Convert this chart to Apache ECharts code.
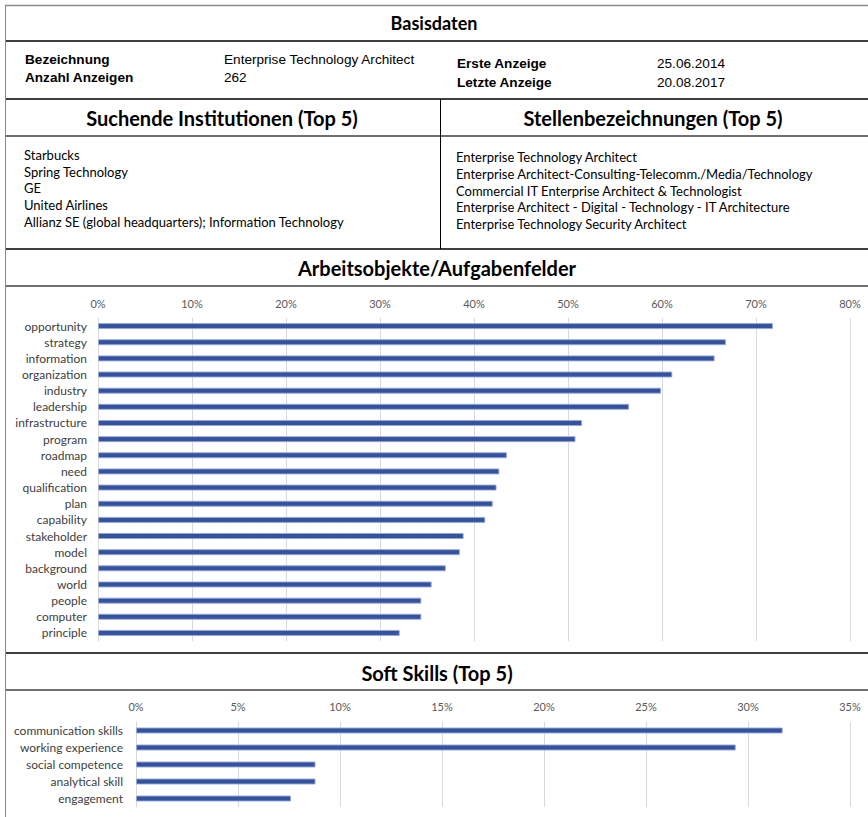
<!DOCTYPE html>
<html><head><meta charset="utf-8">
<script src="https://cdn.jsdelivr.net/npm/echarts@6/dist/echarts.min.js"></script>
<style>html,body{margin:0;padding:0;background:#fff}#c{width:868px;height:817px}</style>
</head><body><div id="c"></div>
<script>
// ---- data ----
const taskCategories = ['opportunity','strategy','information','organization','industry','leadership','infrastructure','program','roadmap','need','qualification','plan','capability','stakeholder','model','background','world','people','computer','principle'];
const taskValues = [71.8, 66.8, 65.6, 61.1, 59.9, 56.5, 51.5, 50.8, 43.5, 42.7, 42.4, 42.0, 41.2, 38.9, 38.5, 37.0, 35.5, 34.4, 34.4, 32.1];
const softCategories = ['communication skills','working experience','social competence','analytical skill','engagement'];
const softValues = [31.7, 29.4, 8.8, 8.8, 7.6];
const institutions = ['Starbucks','Spring Technology','GE','United Airlines','Allianz SE (global headquarters); Information Technology'];
const jobTitles = ['Enterprise Technology Architect','Enterprise Architect-Consulting-Telecomm./Media/Technology','Commercial IT Enterprise Architect & Technologist','Enterprise Architect - Digital - Technology - IT Architecture','Enterprise Technology Security Architect'];
const basisLabelsLeft = ['Bezeichnung','Anzahl Anzeigen'];
const basisValuesLeft = ['Enterprise Technology Architect','262'];
const basisLabelsRight = ['Erste Anzeige','Letzte Anzeige'];
const basisValuesRight = ['25.06.2014','20.08.2017'];
const sectionTitles = ['Basisdaten','Suchende Institutionen (Top 5)','Stellenbezeichnungen (Top 5)','Arbeitsobjekte/Aufgabenfelder','Soft Skills (Top 5)'];

// ---- layout ----
const F = 'Lato, "Noto Sans", sans-serif';
const A = '"Liberation Sans", Arial, sans-serif';
const g = [];
function hline(y, x1, x2, w, c){ g.push({type:'line', shape:{x1:x1,y1:y,x2:x2,y2:y}, style:{stroke:c,lineWidth:w}, silent:true}); }
function vline(x, y1, y2, w, c){ g.push({type:'line', shape:{x1:x,y1:y1,x2:x,y2:y2}, style:{stroke:c,lineWidth:w}, silent:true}); }
function txt(s, x, y, font, fill, align){ g.push({type:'text', x:x, y:y, style:{text:s, font:font, fill:fill||'#000', textAlign:align||'left', textVerticalAlign:'middle'}, silent:true}); }

hline(5.5, 5, 868, 1.5, '#8a8a8a');
hline(41, 5, 868, 2, '#3f3f3f');
hline(99, 5, 868, 2, '#3f3f3f');
hline(136, 5, 868, 1.5, '#3f3f3f');
hline(249, 5, 868, 2, '#3f3f3f');
hline(286, 5, 868, 1.5, '#3f3f3f');
hline(653, 5, 868, 2, '#3f3f3f');
hline(690, 5, 868, 1.5, '#3f3f3f');
vline(5.5, 5, 817, 1, '#8a8a8a');
vline(440.5, 99, 249, 1, '#000');

txt(sectionTitles[0], 434, 23, 'bold 18px ' + F, '#000', 'center');
txt(sectionTitles[1], 222, 118, 'bold 20px ' + F, '#000', 'center');
txt(sectionTitles[2], 653, 118, 'bold 20px ' + F, '#000', 'center');
txt(sectionTitles[3], 437, 268, 'bold 20px ' + F, '#000', 'center');
txt(sectionTitles[4], 437, 673, 'bold 20px ' + F, '#000', 'center');

basisLabelsLeft.forEach((s,i)=>txt(s, 25, 59 + i*18, 'bold 13.6px ' + A, '#000'));
basisValuesLeft.forEach((s,i)=>txt(s, 224, 59 + i*18, '13.6px ' + A, '#000'));
basisLabelsRight.forEach((s,i)=>txt(s, 457, 63 + i*19, 'bold 13.6px ' + A, '#000'));
basisValuesRight.forEach((s,i)=>txt(s, 657, 63 + i*19, '13.6px ' + A, '#000'));

institutions.forEach((s,i)=>txt(s, 24, 155 + i*16.7, '13px ' + F, '#000'));
jobTitles.forEach((s,i)=>txt(s, 456, 157 + i*16.8, '13px ' + F, '#000'));

const barStyle = {color:'#3452a0', borderColor:'rgba(150,168,214,0.9)', borderWidth:1};
const chart = echarts.init(document.getElementById('c'), null, {renderer:'svg'});
chart.setOption({
  animation:false,
  backgroundColor:'#fff',
  grid:[
    {left:98, top:318, width:752, height:323},
    {left:136, top:722, width:714, height:85}
  ],
  xAxis:[
    {gridIndex:0, type:'value', position:'top', min:0, max:80, interval:10,
     axisLine:{show:false}, axisTick:{show:false},
     axisLabel:{formatter:'{value}%', color:'#595959', fontSize:11, fontFamily:F, margin:9},
     splitLine:{lineStyle:{color:'#d9d9d9', width:1}}},
    {gridIndex:1, type:'value', position:'top', min:0, max:35, interval:5,
     axisLine:{show:false}, axisTick:{show:false},
     axisLabel:{formatter:'{value}%', color:'#595959', fontSize:11, fontFamily:F, margin:10},
     splitLine:{lineStyle:{color:'#d9d9d9', width:1}}}
  ],
  yAxis:[
    {gridIndex:0, type:'category', inverse:true, data:taskCategories,
     axisLine:{show:true, lineStyle:{color:'#d9d9d9'}}, axisTick:{show:false},
     axisLabel:{color:'#404040', fontSize:12, fontFamily:F, margin:11}},
    {gridIndex:1, type:'category', inverse:true, data:softCategories,
     axisLine:{show:true, lineStyle:{color:'#d9d9d9'}}, axisTick:{show:false},
     axisLabel:{color:'#404040', fontSize:12, fontFamily:F, margin:13}}
  ],
  series:[
    {type:'bar', xAxisIndex:0, yAxisIndex:0, data:taskValues, barWidth:6, itemStyle:barStyle},
    {type:'bar', xAxisIndex:1, yAxisIndex:1, data:softValues, barWidth:6, itemStyle:barStyle}
  ],
  graphic:g
});
</script></body></html>
